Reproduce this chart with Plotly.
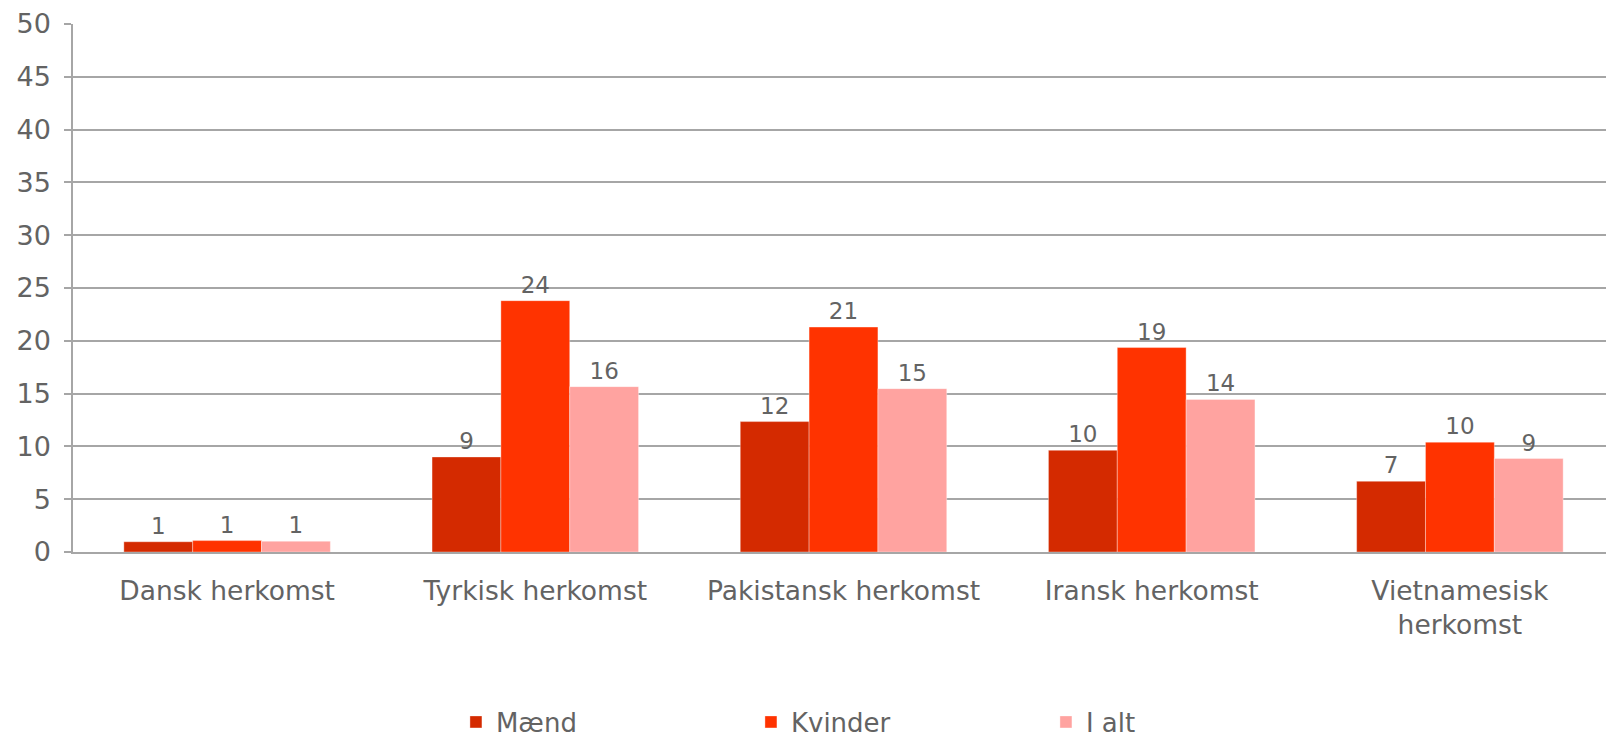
import plotly.graph_objects as go

categories = ["Dansk herkomst", "Tyrkisk herkomst", "Pakistansk herkomst",
              "Iransk herkomst", "Vietnamesisk<br>herkomst"]
maend = [0.97, 9.0, 12.35, 9.63, 6.7]
kvinder = [1.08, 23.8, 21.3, 19.36, 10.4]
i_alt = [1.02, 15.66, 15.47, 14.45, 8.85]
y_ticks = [0, 5, 10, 15, 20, 25, 30, 35, 40, 45, 50]

series = [("Mænd", maend, "#D42A00"), ("Kvinder", kvinder, "#FF3300"), ("I alt", i_alt, "#FFA3A0")]

FONT = "DejaVu Sans"
GREY = "#636363"
GRID = "#A6A6A6"

fig = go.Figure()
for name, vals, col in series:
    fig.add_trace(go.Bar(
        x=categories, y=vals, name=name,
        marker=dict(color=col, line=dict(color="rgba(255,255,255,0.35)", width=1)),
        texttemplate="%{y:.0f}", textposition="outside",
        textfont=dict(family=FONT, size=23, color=GREY),
        cliponaxis=False,
    ))

fig.update_layout(
    width=1606, height=737,
    margin=dict(l=65, r=0, t=16, b=193, autoexpand=False),
    paper_bgcolor="white", plot_bgcolor="white",
    barmode="group", bargap=0.33, bargroupgap=0,
    font=dict(family=FONT, color=GREY),
    showlegend=True,
    legend=dict(orientation="h", x=0.2485, xanchor="left", y=-0.322, yanchor="middle",
                entrywidth=250, entrywidthmode="pixels",
                font=dict(family=FONT, size=26, color=GREY),
                itemclick=False, tracegroupgap=0),
)
fig.update_yaxes(range=[0, 50], tickvals=y_ticks, showgrid=True, gridcolor=GRID, gridwidth=1.5,
                 showline=True, linecolor=GRID, linewidth=1.5,
                 ticks="outside", ticklen=7, tickcolor=GRID, tickwidth=1.5,
                 ticklabelstandoff=8,
                 tickfont=dict(family=FONT, size=27, color=GREY), zeroline=False)
fig.update_xaxes(showline=True, linecolor=GRID, linewidth=2, ticks="", showgrid=False,
                 ticklabelstandoff=14,
                 tickfont=dict(family=FONT, size=26.5, color=GREY))

fig.write_html("out.html")
